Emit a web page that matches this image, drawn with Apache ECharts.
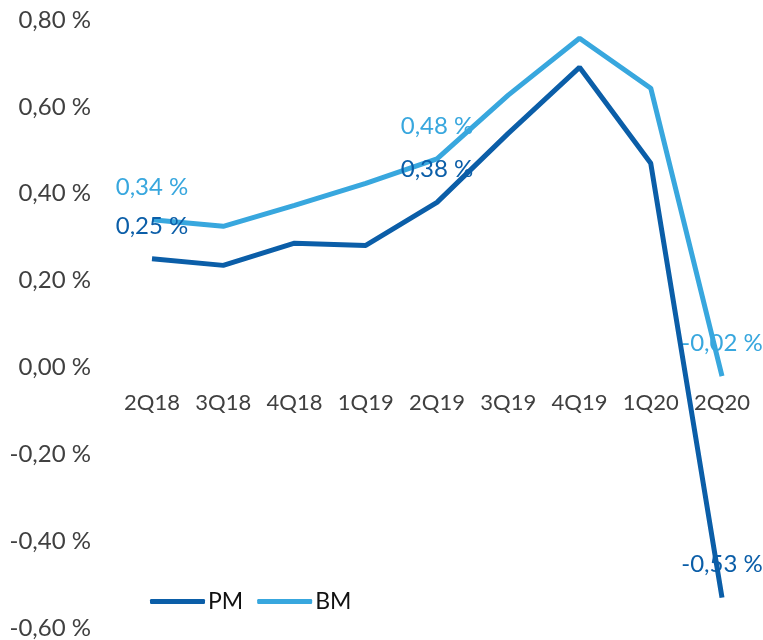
<!DOCTYPE html>
<html>
<head>
<meta charset="utf-8">
<style>
  html, body { margin: 0; padding: 0; background: #fff; }
  #main { width: 763px; height: 640px; }
</style>
<script src="https://cdn.jsdelivr.net/npm/echarts@6/dist/echarts.min.js"></script>
</head>
<body>
<div id="main"></div>
<script>
// quarters on the x axis
var quarters = ['2Q18', '3Q18', '4Q18', '1Q19', '2Q19', '3Q19', '4Q19', '1Q20', '2Q20']
// values in percent
var pmValues = [0.25, 0.235, 0.286, 0.281, 0.38, 0.539, 0.691, 0.47, -0.53]
var bmValues = [0.34, 0.325, 0.373, 0.424, 0.48, 0.627, 0.758, 0.643, -0.02]
// which points get a value label
var labelled = [0, 4, 8]

var yMin = -0.6
var yMax = 0.8
var gridTop = 20
var gridBottom = 12
var chartH = 640

var pmColor = '#0b5ea8'
var bmColor = '#38a7de'
var font = 'Lato, "Open Sans", sans-serif'

function fmt(v) {
  return v.toFixed(2).replace('.', ',') + ' %'
}

function points(values) {
  return values.map(function(v, i) {
    return {
      value: v,
      label: {show: labelled.indexOf(i) >= 0}
    }
  })
}

function lineSeries(name, values, color, z) {
  return {
    name: name,
    type: 'line',
    symbol: 'circle',
    symbolSize: 0.01,
    showAllSymbol: true,
    color: color,
    itemStyle: {color: color},
    lineStyle: {width: 5, color: color},
    label: {
      show: false,
      position: 'top',
      distance: 21,
      color: color,
      fontSize: 24,
      fontFamily: font,
      formatter: function(p) { return fmt(p.value) }
    },
    data: points(values),
    z: z
  }
}

// move the category labels up to the zero line
var plotH = chartH - gridTop - gridBottom
var zeroOffset = -plotH * (0 - yMin) / (yMax - yMin)

var myChart = echarts.init(document.getElementById('main'))
myChart.setOption({
  animation: false,
  grid: {left: 152, right: 41, top: gridTop, bottom: gridBottom, outerBoundsMode: 'none', containLabel: false},
  legend: {
    left: 145,
    top: 585,
    itemWidth: 55,
    itemHeight: 5,
    itemGap: 14,
    icon: 'roundRect',
    textStyle: {fontSize: 23, fontFamily: font, color: '#111', padding: [0, 0, 0, -2]},
    data: ['PM', 'BM']
  },
  xAxis: {
    type: 'category',
    position: 'bottom',
    offset: zeroOffset,
    boundaryGap: false,
    data: quarters,
    axisLine: {show: false, onZero: false},
    axisTick: {show: false},
    axisLabel: {interval: 0, hideOverlap: false, fontSize: 22, fontFamily: font, color: '#404040', margin: 24}
  },
  yAxis: {
    type: 'value',
    min: yMin,
    max: yMax,
    interval: 0.2,
    splitLine: {show: false},
    axisLine: {show: false},
    axisTick: {show: false},
    axisLabel: {
      fontSize: 24, fontFamily: font, color: '#404040', margin: 61,
      formatter: function(v) { return fmt(v) }
    }
  },
  series: [
    lineSeries('PM', pmValues, pmColor, 3),
    lineSeries('BM', bmValues, bmColor, 2)
  ]
})
</script>
</body>
</html>
